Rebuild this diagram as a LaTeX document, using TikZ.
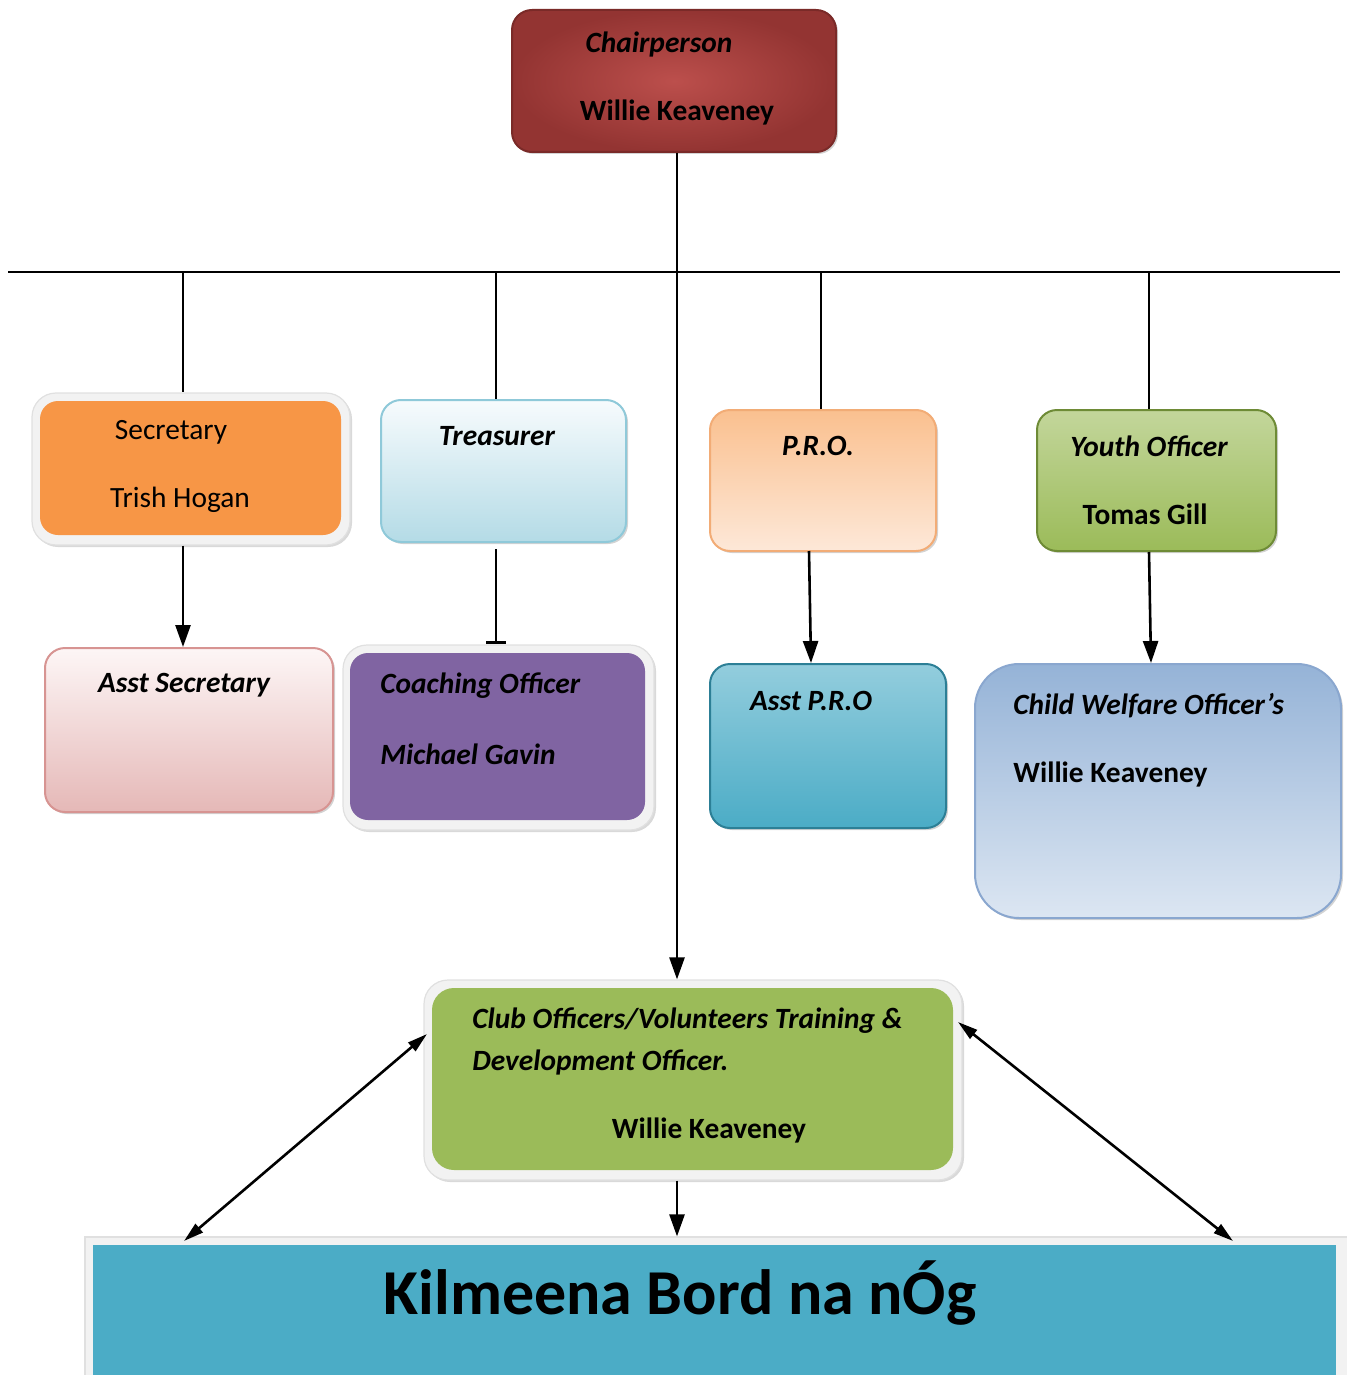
\documentclass[tikz,border=0pt]{standalone}
\usepackage{fontspec}
\setmainfont{Carlito}
\usetikzlibrary{fit,arrows.meta,shadows}
\definecolor{chairin}{HTML}{BC4F4C}
\definecolor{chairout}{HTML}{933432}
\definecolor{chairedge}{HTML}{7A2A28}
\definecolor{secfill}{HTML}{F79646}
\definecolor{framegray}{HTML}{F2F2F2}
\definecolor{trstop}{HTML}{F7FBFD}
\definecolor{trsbot}{HTML}{B4DBE6}
\definecolor{trsedge}{HTML}{8FC9D9}
\definecolor{astop}{HTML}{FDF6F6}
\definecolor{asbot}{HTML}{E5B8B7}
\definecolor{asedge}{HTML}{D79492}
\definecolor{coachfill}{HTML}{8064A2}
\definecolor{protop}{HTML}{FAC08F}
\definecolor{probot}{HTML}{FDE8D8}
\definecolor{proedge}{HTML}{F2AC76}
\definecolor{aptop}{HTML}{93CDDD}
\definecolor{apbot}{HTML}{4BACC6}
\definecolor{apedge}{HTML}{2C7F96}
\definecolor{ytop}{HTML}{C3D69B}
\definecolor{ybot}{HTML}{9BBB59}
\definecolor{yedge}{HTML}{6E8B36}
\definecolor{cwtop}{HTML}{95B3D7}
\definecolor{cwbot}{HTML}{DCE6F2}
\definecolor{cwedge}{HTML}{8AA7CF}
\definecolor{clubfill}{HTML}{9BBB59}
\definecolor{nogfill}{HTML}{4BACC6}
\begin{document}
\begin{tikzpicture}[x=0.5pt,y=-0.5pt,
  box/.style={rounded corners=10pt, inner sep=0pt, line width=1pt,
    drop shadow={shadow xshift=1pt, shadow yshift=-1pt, opacity=0.35}},
  framebox/.style={rounded corners=12pt, inner sep=0pt, fill=framegray,
    draw=black!12, line width=0.6pt,
    drop shadow={shadow xshift=1pt, shadow yshift=-1pt, opacity=0.3}},
  inbox/.style={rounded corners=9pt, inner sep=0pt},
  bi/.style={inner sep=0pt, font=\fontsize{14.7}{17}\selectfont\bfseries\itshape},
  bf/.style={inner sep=0pt, font=\fontsize{14.7}{17}\selectfont\bfseries},
  rm/.style={inner sep=0pt, font=\fontsize{14.7}{17}\selectfont},
  link/.style={line width=1.3pt},
  tip/.style={-{Triangle[length=11pt,width=7.5pt]}},
  dbl/.style={{Triangle[length=10pt,width=5.5pt]}-{Triangle[length=10pt,width=5.5pt]}}]
\useasboundingbox (0,0) rectangle (1346,1375);
% Boxes
\node[box, fit={(512,10) (836,152)}, draw=chairedge, shading=radial,
  inner color=chairin, outer color=chairout] (chair) {};
\node[framebox, fit={(32,393) (350,545)}] (sec) {};
\node[inbox, fit={(40,401) (341,535)}, fill=secfill] (secin) {};
\node[box, fit={(381,400) (626,542)}, draw=trsedge, top color=trstop, bottom color=trsbot] (tre) {};
\node[box, fit={(45,648) (333,812)}, draw=asedge, top color=astop, bottom color=asbot] (asec) {};
\node[framebox, fit={(343,645) (654,830)}] (coach) {};
\node[inbox, fit={(350,653) (645,820)}, fill=coachfill] (coachin) {};
\node[box, fit={(710,410) (936,551)}, draw=proedge, top color=protop, bottom color=probot] (pro) {};
\node[box, fit={(710,664) (946,828)}, draw=apedge, top color=aptop, bottom color=apbot] (apro) {};
\node[box, fit={(1037,410) (1276,551)}, draw=yedge, top color=ytop, bottom color=ybot] (youth) {};
\node[box, rounded corners=22pt, fit={(975,664) (1341,918)}, draw=cwedge, top color=cwtop, bottom color=cwbot] (cwo) {};
\node[framebox, fit={(424,980) (962,1180)}] (club) {};
\node[inbox, rounded corners=11pt, fit={(432,988) (953,1170)}, fill=clubfill] (clubin) {};
\node[framebox, rounded corners=0pt, fit={(85,1237) (1352,1380)}] (nog) {};
\node[inner sep=0pt, fit={(93,1245) (1336,1380)}, fill=nogfill] (nogin) {};
% Texts
\node[bi] (tChair) at (659,44) {Chairperson};
\node[bf] (nChair) at (677,112) {Willie Keaveney};
\node[rm] (tSec) at (171,432) {Secretary};
\node[rm] (nSec) at (180,500) {Trish Hogan};
\node[bi] (tTre) at (497,436) {Treasurer};
\node[bi] (tAsec) at (184,685) {Asst Secretary};
\node[bi, anchor=west] (tCoach) at (380,686) {Coaching Officer};
\node[bi, anchor=west] (nCoach) at (380,754) {Michael Gavin};
\node[bi] (tPro) at (818,446) {P.R.O.};
\node[bi] (tApro) at (811,701) {Asst P.R.O};
\node[bi] (tYouth) at (1149,446) {Youth Officer};
\node[bf] (nYouth) at (1145,514) {Tomas Gill};
\node[bi, anchor=west] (tCwo) at (1013,706) {Child Welfare Officer’s};
\node[bf, anchor=west] (nCwo) at (1013,774) {Willie Keaveney};
\node[bi, anchor=west] (tClub) at (472,1021) {Club Officers/Volunteers Training \&};
\node[bi, anchor=west] (tClub2) at (472,1062) {Development Officer.};
\node[bf] (nClub) at (709,1130) {Willie Keaveney};
\node[inner sep=0pt, font=\fontsize{32}{36}\selectfont\bfseries] (tNog) at (680,1293) {Kilmeena Bord na nÓg};
% Lines
\coordinate (barL) at (8,272);
\coordinate (barR) at (1340,272);
\coordinate (spine) at (677,0);
\coordinate (dSec) at (183,272);
\coordinate (dTre) at (496,272);
\coordinate (dPro) at (821,272);
\coordinate (dYouth) at (1149,272);
\coordinate (eL) at (427,1034);
\coordinate (nogL) at (184,1241);
\coordinate (eR) at (958,1022);
\coordinate (nogR) at (1233,1241);
\draw[link] (barL) -- (barR);
\draw[link, tip] (chair.south -| spine) -- (club.north -| spine);
\draw[link] (dSec) -- (dSec |- sec.north);
\draw[link] (dTre) -- (dTre |- tre.north);
\draw[link] (dPro) -- (dPro |- pro.north);
\draw[link] (dYouth) -- (dYouth |- youth.north);
\draw[link, tip] (dSec |- sec.south) -- (dSec |- asec.north);
\draw[link, -{Bar[width=10pt,line width=1.6pt]}] (dTre |- tre.south) ++(0,6) -- (dTre |- coach.north);
\draw[link, tip] (809,551) -- (apro.north -| 811,0);
\draw[link, tip] (youth.south -| 1149,0) -- (cwo.north -| 1151,0);
\draw[link, tip] (club.south -| spine) -- (nog.north -| spine);
\draw[link, dbl] (eL) -- (nogL);
\draw[link, dbl] (eR) -- (nogR);
\end{tikzpicture}
\end{document}
